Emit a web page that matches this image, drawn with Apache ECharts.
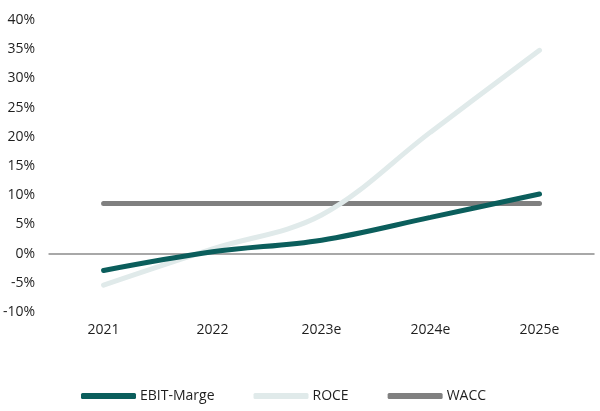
<!DOCTYPE html>
<html>
<head>
<meta charset="utf-8">
<script src="https://cdn.jsdelivr.net/npm/echarts@6/dist/echarts.min.js"></script>
<style>
  html, body { margin: 0; padding: 0; background: #fff; }
  #chart { width: 600px; height: 411px; }
</style>
</head>
<body>
<div id="chart"></div>
<script>
const years = ['2021', '2022', '2023e', '2024e', '2025e']
const ebitMarge = [-2.9, 0.3, 2.3, 6.2, 10.2]
const roce = [-5.4, 0.8, 6.6, 20.8, 34.8]
const wacc = [8.6, 8.6, 8.6, 8.6, 8.6]

const font = 'Open Sans'
const mycharts = echarts.init(document.getElementById('chart'))

function lineSeries(name, data, color) {
  return {
    name: name,
    type: 'line',
    data: data,
    smooth: 0.35,
    symbol: 'none',
    lineStyle: { color: color, width: 5, cap: 'round' },
    itemStyle: { color: color },
  }
}

mycharts.setOption({
  animation: false,
  textStyle: { fontFamily: font },
  grid: { left: 46, right: 6, top: 20, bottom: 99 },
  legend: {
    bottom: 3,
    left: 76,
    itemWidth: 55,
    itemHeight: 6,
    itemGap: 39,
    icon: 'roundRect',
    textStyle: { fontSize: 14, color: '#1f1f1f', fontFamily: font, padding: [0, 0, 0, -1] },
    data: ['EBIT-Marge', 'ROCE', 'WACC'],
  },
  xAxis: [
    {
      type: 'category',
      data: years,
      boundaryGap: true,
      axisLine: { show: false, onZero: false },
      axisTick: { show: false },
      axisLabel: { color: '#1f1f1f', fontSize: 14, margin: 11, fontFamily: font },
    },
    {
      // 0%-Linie
      type: 'category',
      data: years,
      position: 'bottom',
      axisLine: { show: true, onZero: true, lineStyle: { color: '#8c8c8c', width: 1.5 } },
      axisTick: { show: false },
      axisLabel: { show: false },
    },
  ],
  yAxis: {
    type: 'value',
    min: -10,
    max: 40,
    interval: 5,
    axisLine: { show: false },
    axisTick: { show: false },
    splitLine: { show: false },
    axisLabel: {
      color: '#1f1f1f',
      fontSize: 14,
      margin: 14,
      fontFamily: font,
      formatter: '{value}%',
    },
  },
  series: [
    lineSeries('WACC', wacc, '#808080'),
    lineSeries('ROCE', roce, '#e0eaea'),
    lineSeries('EBIT-Marge', ebitMarge, '#0b5e5c'),
  ],
})
</script>
</body>
</html>
